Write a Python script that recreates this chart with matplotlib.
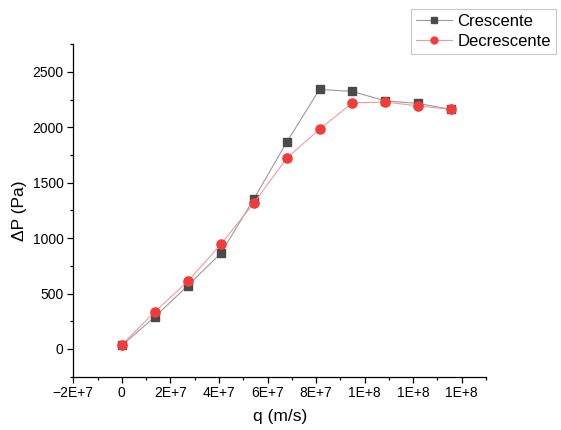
import math
import matplotlib
matplotlib.use("Agg")
import matplotlib.pyplot as plt
from matplotlib.ticker import MultipleLocator, FuncFormatter

plt.rcParams['font.family'] = ['Liberation Sans', 'DejaVu Sans']

# vazao (q) e queda de pressao
q = [0, 1.357e7, 2.714e7, 4.071e7, 5.428e7, 6.785e7, 8.142e7, 9.499e7,
     1.0856e8, 1.2213e8, 1.357e8]
dp_cresc = [33, 289, 572, 862, 1350, 1865, 2343, 2324, 2239, 2216, 2162]
dp_decresc = [39, 335, 611, 943, 1314, 1721, 1983, 2222, 2228, 2194, 2162]

fig = plt.figure(figsize=(5.61, 4.30), dpi=100)
ax = fig.add_axes([0.1307, 0.124, 0.8663 - 0.1307, 0.897 - 0.124])

ax.plot(q, dp_cresc, color='#9a9a9a', lw=0.8, marker='s', ms=5.8,
        mfc='#4a4a4a', mec='#4a4a4a', label='Crescente')
ax.plot(q, dp_decresc, color='#f59a9a', lw=0.8, marker='o', ms=6.6,
        mfc='#f23b3b', mec='#f23b3b', label='Decrescente')

ax.set_xlim(-2e7, 1.5e8)
ax.set_ylim(-250, 2750)
ax.xaxis.set_major_locator(MultipleLocator(2e7))
ax.xaxis.set_minor_locator(MultipleLocator(1e7))
ax.yaxis.set_major_locator(MultipleLocator(500))
ax.yaxis.set_minor_locator(MultipleLocator(250))


def fmt(v, pos):
    if abs(v) < 1:
        return '0'
    e = int(math.floor(math.log10(abs(v)) + 1e-9))
    m = int(round(v / 10 ** e))
    s = f"{abs(m)}E+{e}"
    return ('\u2212' + s) if m < 0 else s


ax.xaxis.set_major_formatter(FuncFormatter(fmt))

for s in ['top', 'right']:
    ax.spines[s].set_visible(False)
for s in ['left', 'bottom']:
    ax.spines[s].set_linewidth(0.9)
ax.tick_params(which='major', direction='out', length=4, width=0.9,
               labelsize=10, pad=3)
ax.tick_params(which='minor', direction='out', length=2.3, width=0.9)

ax.set_xlabel('q (m/s)', fontsize=12.5, labelpad=6)
ax.set_ylabel('\u0394P (Pa)', fontsize=12.5, labelpad=4)

leg = fig.legend(loc='upper right', bbox_to_anchor=(0.991, 0.979),
                 fontsize=12, frameon=True, fancybox=False,
                 edgecolor='#bbbbbb', handlelength=2.2, handletextpad=0.3,
                 borderpad=0.3, labelspacing=0.3, borderaxespad=0,
                 markerscale=0.75)
leg.get_frame().set_linewidth(0.8)

fig.savefig('out.png', dpi=100)
